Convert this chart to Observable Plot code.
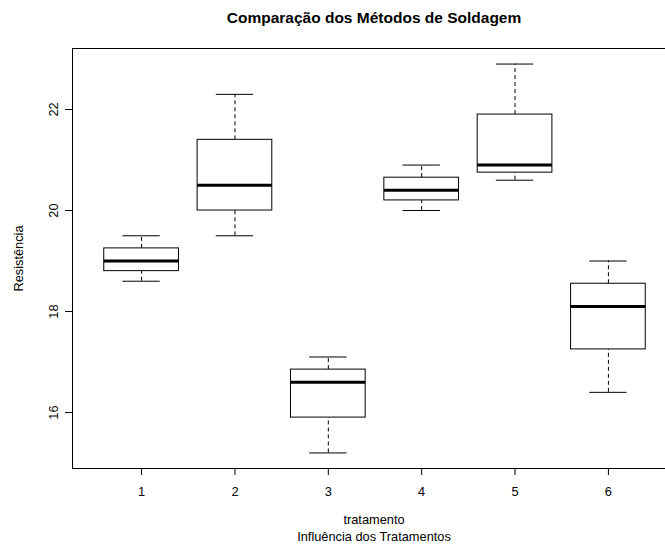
<!DOCTYPE html>
<html>
<head>
<meta charset="utf-8">
<script src="https://cdn.jsdelivr.net/npm/d3@7"></script>
<script src="https://cdn.jsdelivr.net/npm/@observablehq/plot@0.6"></script>
<style>
  html, body { margin: 0; padding: 0; background: #fff; overflow: hidden; }
  #wrap { position: relative; width: 665px; height: 547px; overflow: hidden; font-family: "Liberation Sans", Arial, sans-serif; color: #000; }
  #title { position: absolute; left: 0; top: 0; width: 748px; height: 36px; line-height: 36px; text-align: center; font-weight: bold; font-size: 15.5px; }
  #chart { position: absolute; left: 0; top: 40px; width: 665px; overflow: hidden; }
  #xlab { position: absolute; left: 0; top: 511px; width: 748px; text-align: center; font-size: 12.8px; line-height: 17px; }
</style>
</head>
<body>
<div id="wrap">
  <div id="title">Comparação dos Métodos de Soldagem</div>
  <div id="chart"></div>
  <div id="xlab"><div>tratamento</div><div>Influência dos Tratamentos</div></div>
</div>
<script>
// Data (boxplot statistics per treatment)
const tratamento = [1, 2, 3, 4, 5, 6];
const lower  = [18.6, 19.5, 15.2, 20.0, 20.6, 16.4];
const q1     = [18.8, 20.0, 15.9, 20.2, 20.75, 17.25];
const median = [19.0, 20.5, 16.6, 20.4, 20.9, 18.1];
const q3     = [19.25, 21.4, 16.85, 20.65, 21.9, 18.55];
const upper  = [19.5, 22.3, 17.1, 20.9, 22.9, 19.0];
const yTicks = [16, 18, 20, 22];

const boxes = tratamento.map((t, i) => ({t, lo: lower[i], q1: q1[i], med: median[i], q3: q3[i], hi: upper[i]}));

const boxwex = 0.8, staple = 0.4;
const n = tratamento.length;
const xPad = n * 0.04;
const [ymin, ymax] = d3.extent([...lower, ...upper]);
const yPad = (ymax - ymin) * 0.04;

const chart = Plot.plot({
  width: 665,
  height: 470,
  marginTop: 8,
  marginBottom: 42,
  marginLeft: 72,
  marginRight: -12,
  style: {fontFamily: "Liberation Sans, Arial, sans-serif", fontSize: "12.8px", color: "#000", background: "transparent"},
  x: {domain: [0.5 - xPad, n + 0.5 + xPad]},
  y: {domain: [ymin - yPad, ymax + yPad]},
  marks: [
    Plot.ruleX(boxes, {x: "t", y1: "q3", y2: "hi", stroke: "#000", strokeDasharray: "4,3"}),
    Plot.ruleX(boxes, {x: "t", y1: "lo", y2: "q1", stroke: "#000", strokeDasharray: "4,3"}),
    Plot.ruleY(boxes, {y: "hi", x1: d => d.t - staple / 2, x2: d => d.t + staple / 2, stroke: "#000"}),
    Plot.ruleY(boxes, {y: "lo", x1: d => d.t - staple / 2, x2: d => d.t + staple / 2, stroke: "#000"}),
    Plot.rect(boxes, {x1: d => d.t - boxwex / 2, x2: d => d.t + boxwex / 2, y1: "q1", y2: "q3", fill: "white", stroke: "#000"}),
    Plot.ruleY(boxes, {y: "med", x1: d => d.t - boxwex / 2, x2: d => d.t + boxwex / 2, stroke: "#000", strokeWidth: 3}),
    Plot.frame({stroke: "#000"}),
    Plot.axisX({ticks: tratamento, tickFormat: d => String(d), tickSize: 7, tickPadding: 11, label: null, stroke: "#000"}),
    Plot.axisY({ticks: yTicks, tickFormat: d => String(d), tickSize: 7, tickPadding: 8, tickRotate: -90,
                label: "Resistência", labelArrow: "none", labelAnchor: "center", labelOffset: 59, stroke: "#000"})
  ]
});
document.getElementById("chart").appendChild(chart);
</script>
</body>
</html>
